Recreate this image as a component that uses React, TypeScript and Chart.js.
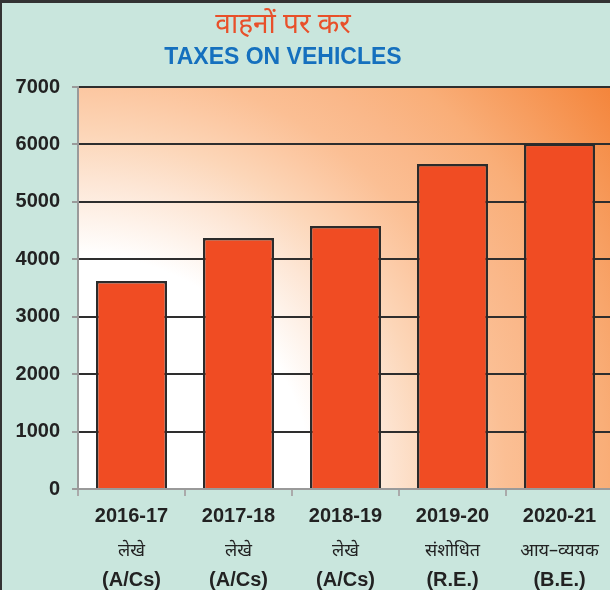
import React, { useEffect, useRef } from "react";
import { Chart, registerables } from "chart.js";

Chart.register(...registerables);

const titleHindi = "वाहनों पर कर";
const titleEnglish = "TAXES ON VEHICLES";
const categories = ["2016-17", "2017-18", "2018-19", "2019-20", "2020-21"];
const hindiLabels = ["लेखे", "लेखे", "लेखे", "संशोधित", "आय–व्ययक"];
const englishLabels = ["(A/Cs)", "(A/Cs)", "(A/Cs)", "(R.E.)", "(B.E.)"];
const values = [3620, 4370, 4580, 5660, 6010];
const yMin = 0;
const yMax = 7000;
const yStep = 1000;

const LATIN = '"Liberation Sans", Arial, sans-serif';
const DEVA = '"Noto Sans", "Liberation Sans", sans-serif';

const bgPlugin = {
  id: "bgPlugin",
  beforeDraw(chart: any) {
    const { ctx, chartArea, width, height } = chart;
    ctx.save();
    ctx.fillStyle = "#c9e6dd";
    ctx.fillRect(0, 0, width, height);
    const { left, right, top, bottom } = chartArea;
    const r = Math.hypot(right - left, bottom - top);
    const g = ctx.createRadialGradient(left, bottom, 0, left, bottom, r);
    g.addColorStop(0, "#ffffff");
    g.addColorStop(0.35, "#ffffff");
    g.addColorStop(0.46, "#fde6d5");
    g.addColorStop(0.53, "#fcd6b8");
    g.addColorStop(0.59, "#fcc9a4");
    g.addColorStop(0.64, "#fbbf94");
    g.addColorStop(0.7, "#fab88a");
    g.addColorStop(0.79, "#f9ae78");
    g.addColorStop(1, "#f4843a");
    ctx.fillStyle = g;
    ctx.fillRect(left, top, right - left, bottom - top);
    ctx.restore();
  },
  afterDraw(chart: any) {
    const { ctx, width, height } = chart;
    const xs = chart.scales.x;
    ctx.save();
    ctx.textAlign = "center";
    ctx.textBaseline = "middle";
    // titles
    ctx.fillStyle = "#e8502a";
    ctx.font = `28px ${DEVA}`;
    ctx.fillText(titleHindi, 283, 25);
    ctx.fillStyle = "#1570be";
    ctx.font = `bold 23px ${LATIN}`;
    ctx.fillText(titleEnglish, 283, 58);
    // category labels
    categories.forEach((c, i) => {
      const x = xs.getPixelForValue(i);
      ctx.fillStyle = "#222222";
      ctx.font = `bold 20px ${LATIN}`;
      ctx.fillText(c, x, 516);
      ctx.font = `18px ${DEVA}`;
      ctx.fillText(hindiLabels[i], x, 551);
      ctx.font = `bold 20px ${LATIN}`;
      ctx.fillText(englishLabels[i], x, 580);
    });
    // frame lines
    ctx.fillStyle = "#333333";
    ctx.fillRect(0, 0, width, 3);
    ctx.fillRect(0, 0, 2, height);
    ctx.restore();
  },
};

export default function App() {
  const ref = useRef<HTMLCanvasElement>(null);
  useEffect(() => {
    document.body.style.margin = "0";
    const chart = new Chart(ref.current as HTMLCanvasElement, {
      type: "bar",
      data: {
        labels: categories,
        datasets: [
          {
            data: values,
            backgroundColor: "#f04c23",
            borderColor: "#2b2b2b",
            borderWidth: 2.5,
            barPercentage: 0.665,
            categoryPercentage: 1,
          },
        ],
      },
      options: {
        responsive: false,
        animation: false,
        devicePixelRatio: 1,
        layout: { padding: { top: 87, left: 0, right: 0, bottom: 0 } },
        plugins: {
          legend: { display: false },
          tooltip: { enabled: false },
          title: { display: false },
        },
        scales: {
          x: {
            afterFit: (s: any) => {
              s.height = 101;
            },
            ticks: { display: false },
            grid: {
              display: true,
              drawOnChartArea: false,
              offset: true,
              tickLength: 7,
              tickColor: "#aaaaaa",
              lineWidth: 2,
            },
            border: { display: true, color: "#9a9a9a", width: 2 },
          },
          y: {
            min: yMin,
            max: yMax,
            afterFit: (s: any) => {
              s.width = 78;
            },
            ticks: {
              stepSize: yStep,
              color: "#222222",
              padding: 12,
              font: { family: LATIN, size: 20, weight: "bold" },
              callback: (v: any) => String(v),
            },
            grid: {
              color: "#2e2e2e",
              lineWidth: 2,
              tickLength: 6,
              tickColor: "#9a9a9a",
            },
            border: { display: true, color: "#9a9a9a", width: 2 },
          },
        },
      },
      plugins: [bgPlugin],
    });
    return () => chart.destroy();
  }, []);
  return (
    <div
      style={{
        position: "relative",
        width: 610,
        height: 590,
        overflow: "hidden",
      }}
    >
      <canvas
        ref={ref}
        width={613}
        height={590}
        style={{ position: "absolute", left: 0, top: 0, width: 613, height: 590 }}
      />
    </div>
  );
}
